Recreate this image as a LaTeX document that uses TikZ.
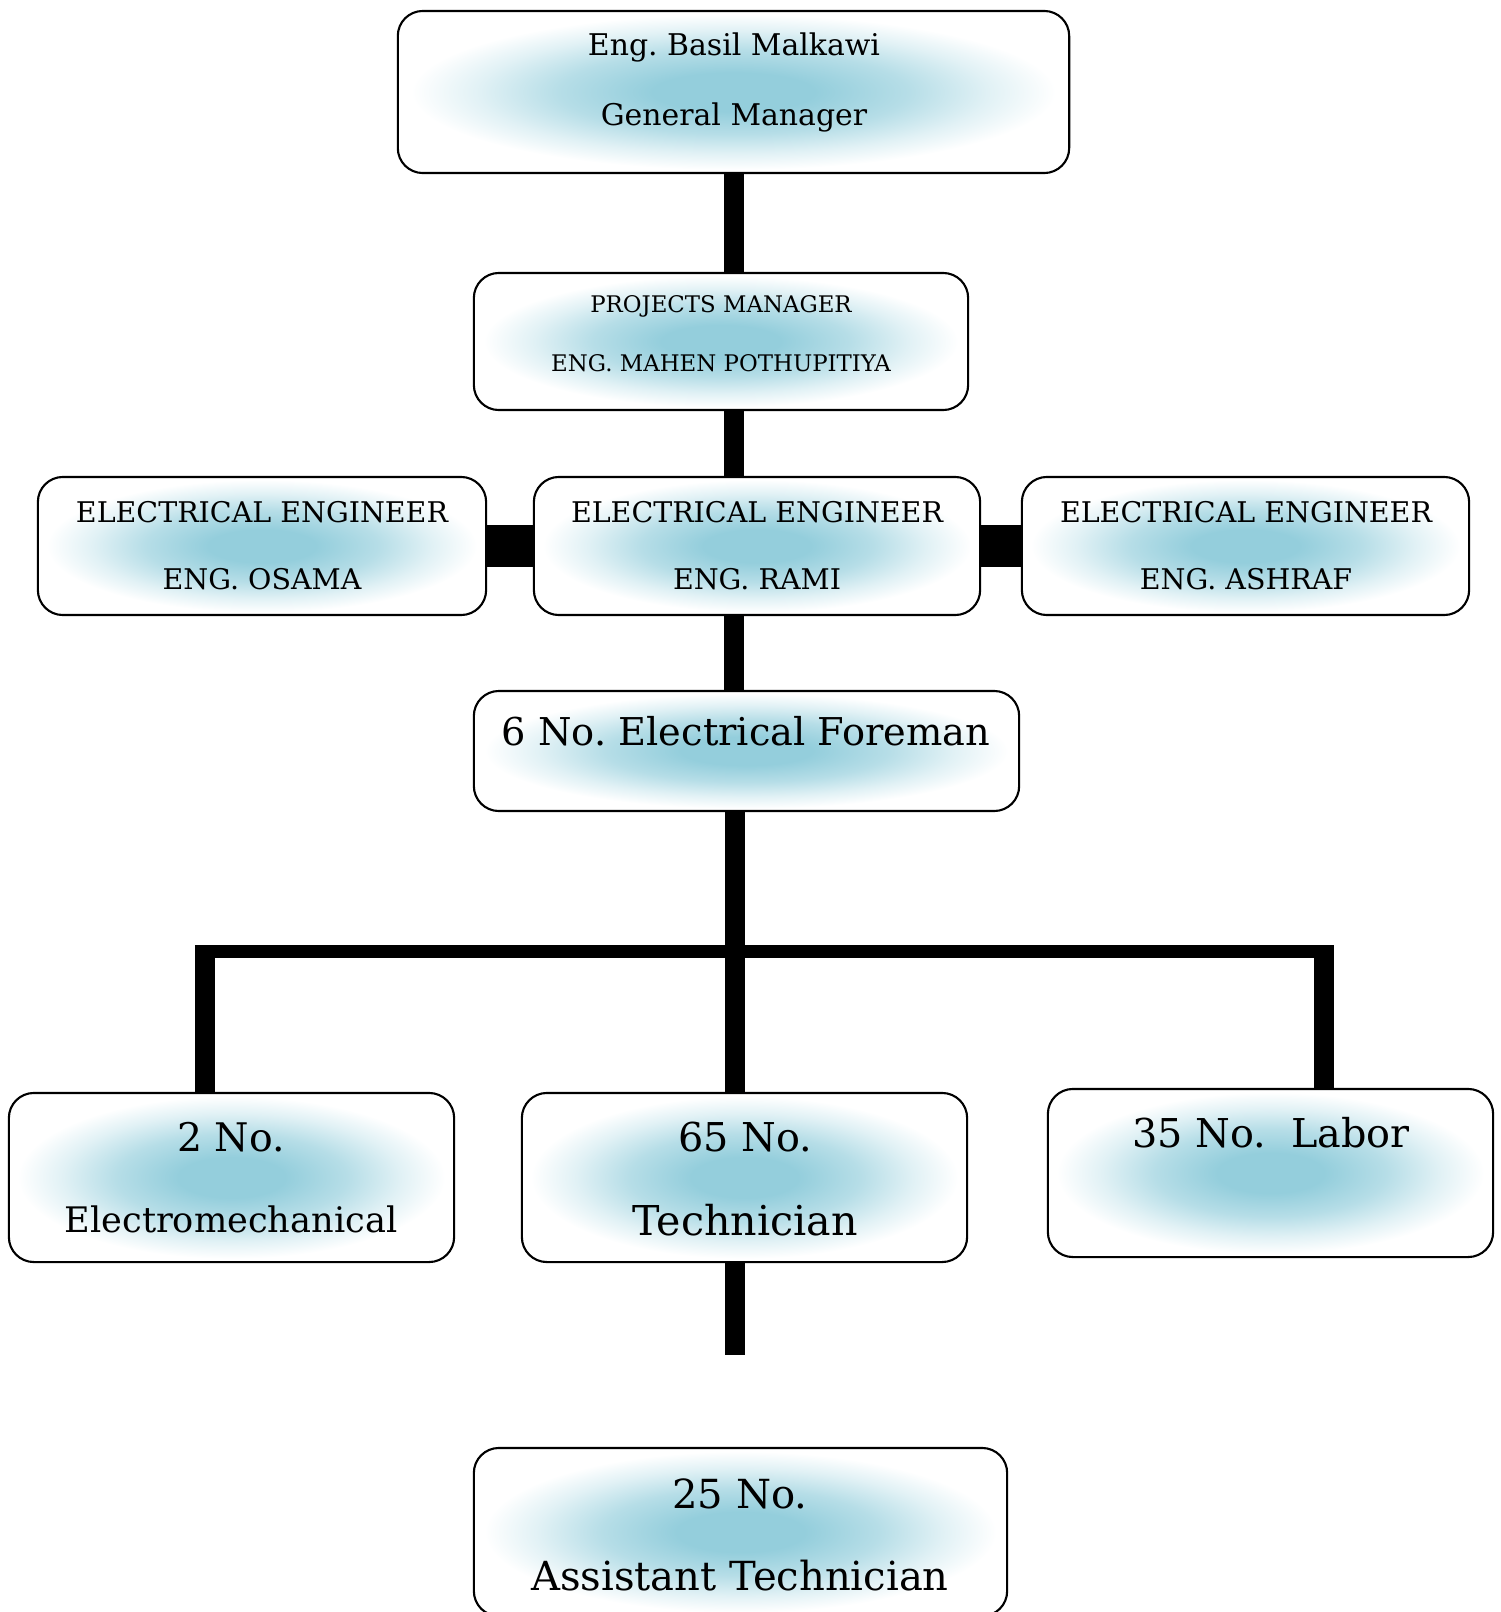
\documentclass[tikz,border=0pt]{standalone}
\usepackage{fontspec}
\setmainfont{DejaVu Serif}
\frenchspacing
\definecolor{glowblue}{RGB}{148,206,220}
\pgfdeclareradialshading{boxglow}{\pgfpoint{0bp}{0bp}}{color(0bp)=(glowblue); color(6bp)=(glowblue); color(13bp)=(glowblue!68!white); color(19bp)=(glowblue!28!white); color(24bp)=(white); color(50bp)=(white)}

\begin{document}
\begin{tikzpicture}[x=0.01cm,y=-0.01cm,
		orgbox/.style={draw,line width=0.6pt,rounded corners=0.25cm,shade,shading=boxglow,inner sep=0pt},
		trunk/.style={line width=0.2cm},
		side/.style={line width=0.42cm},
		bus/.style={line width=0.13cm}]
	\useasboundingbox (0,0) rectangle (1501,1612);

	\node[orgbox,minimum width=6.71cm,minimum height=1.62cm] (gm) at (733.5,92) {};
	\node[orgbox,minimum width=4.94cm,minimum height=1.37cm] (pm) at (721,341.5) {};
	\node[orgbox,minimum width=4.48cm,minimum height=1.38cm] (eel) at (262,546) {};
	\node[orgbox,minimum width=4.46cm,minimum height=1.38cm] (eec) at (757,546) {};
	\node[orgbox,minimum width=4.47cm,minimum height=1.38cm] (eer) at (1245.5,546) {};
	\node[orgbox,minimum width=5.45cm,minimum height=1.20cm] (fore) at (746.5,751) {};
	\node[orgbox,minimum width=4.45cm,minimum height=1.69cm] (elm) at (231.5,1177.5) {};
	\node[orgbox,minimum width=4.45cm,minimum height=1.69cm] (tech) at (744.5,1177.5) {};
	\node[orgbox,minimum width=4.45cm,minimum height=1.68cm] (lab) at (1270.5,1173) {};
	\node[orgbox,minimum width=5.33cm,minimum height=1.68cm] (asst) at (740.5,1532) {};

	\node[font=\fontsize{8.5}{19.9}\selectfont,align=center] (gmtext) at (734,82) {Eng. Basil Malkawi\\General Manager};
	\node[font=\fontsize{6.5}{16.8}\selectfont,align=center] (pmtext) at (721,333.5) {PROJECTS MANAGER\\ENG. MAHEN POTHUPITIYA};
	\node[font=\fontsize{8.1}{19}\selectfont,align=center] (eeltext) at (262,545.5) {ELECTRICAL ENGINEER\\ENG. OSAMA};
	\node[font=\fontsize{8.1}{19}\selectfont,align=center] (eectext) at (757,545.5) {ELECTRICAL ENGINEER\\ENG. RAMI};
	\node[font=\fontsize{8.1}{19}\selectfont,align=center] (eertext) at (1246,545.5) {ELECTRICAL ENGINEER\\ENG. ASHRAF};
	\node[font=\fontsize{10.9}{13}\selectfont] (foretext) at (746,731) {6 No. Electrical Foreman};
	\node[font=\fontsize{11.2}{23}\selectfont,align=center] (elmtext) at (231,1177.5) {2 No.\\{\fontsize{10}{12}\selectfont Electromechanical}};
	\node[font=\fontsize{11.3}{24}\selectfont,align=center] (techtext) at (745,1179) {65 No.\\{\fontsize{11.7}{14}\selectfont Technician}};
	\node[font=\fontsize{11.3}{14}\selectfont] (labtext) at (1271,1133) {35 No.\ \ Labor};
	\node[font=\fontsize{11.4}{23.3}\selectfont,align=center] (assttext) at (740,1535) {25 No.\\Assistant Technician};

	\coordinate (busmid) at (735,951);
	\coordinate (busleft) at (205,951);
	\coordinate (busright) at (1324,951);
	\coordinate (techend) at (735,1355);

	\draw[trunk] (gm.south) -- (gm.south |- pm.north);
	\draw[trunk] (pm.south -| gm.south) -- (eec.north -| gm.south);
	\draw[side] (eel.east) -- (eec.west);
	\draw[side] (eec.east) -- (eer.west);
	\draw[trunk] (eec.south -| gm.south) -- (fore.north -| gm.south);
	\draw[trunk] (fore.south -| busmid) -- (busmid);
	\draw[bus] ([xshift=-0.1cm]busleft) -- ([xshift=0.1cm]busright);
	\draw[trunk] (busleft) -- (busleft |- elm.north);
	\draw[trunk] (busmid) -- (busmid |- tech.north);
	\draw[trunk] (busright) -- (busright |- lab.north);
	\draw[trunk] (tech.south -| techend) -- (techend);
\end{tikzpicture}
\end{document}
